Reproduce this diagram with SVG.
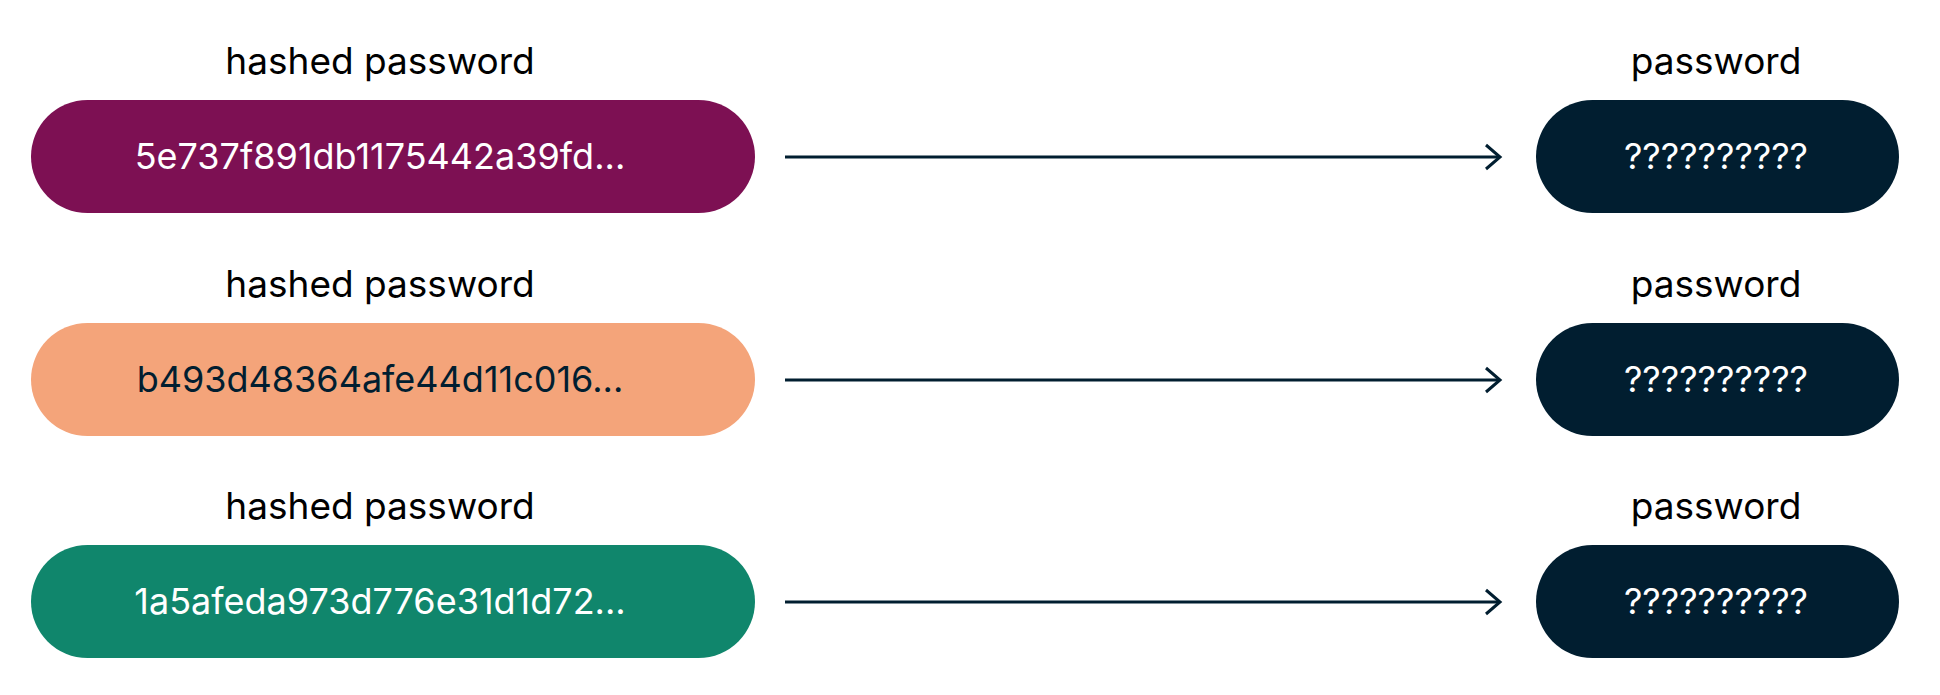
<svg xmlns="http://www.w3.org/2000/svg" width="1940" height="695" viewBox="0 0 1940 695">
<defs>
<style>
.lbl{font-family:Inter,"Liberation Sans",sans-serif;font-size:37px;fill:#000;text-anchor:middle}
.t{font-family:Inter,"Liberation Sans",sans-serif;font-size:36px;text-anchor:middle}
.c{stroke:#011e30;stroke-width:3;fill:none}
</style>
<marker id="a" markerWidth="20" markerHeight="30" refX="17" refY="15" orient="auto" markerUnits="userSpaceOnUse"><path d="M3,3 L17,15 L3,27" fill="none" stroke="#011e30" stroke-width="3"/></marker>
</defs>
<rect width="1940" height="695" fill="#fff"/>
<g id="h1"><text class="lbl" x="380" y="74">hashed password</text><rect x="31" y="100" width="724" height="113" rx="56.5" fill="#7d1053"/><text class="t" x="380" y="169" fill="#fff">5e737f891db1175442a39fd...</text></g>
<g id="h2"><text class="lbl" x="380" y="297">hashed password</text><rect x="31" y="323" width="724" height="113" rx="56.5" fill="#f4a47a"/><text class="t" x="380" y="392" fill="#011e30">b493d48364afe44d11c016...</text></g>
<g id="h3"><text class="lbl" x="380" y="519">hashed password</text><rect x="31" y="545" width="724" height="113" rx="56.5" fill="#10866c"/><text class="t" x="380" y="614" fill="#fff">1a5afeda973d776e31d1d72...</text></g>
<g id="p1"><text class="lbl" x="1716" y="74">password</text><rect x="1536" y="100" width="363" height="113" rx="56.5" fill="#011e30"/><text class="t" x="1716" y="169" fill="#fff">??????????</text></g>
<g id="p2"><text class="lbl" x="1716" y="297">password</text><rect x="1536" y="323" width="363" height="113" rx="56.5" fill="#011e30"/><text class="t" x="1716" y="392" fill="#fff">??????????</text></g>
<g id="p3"><text class="lbl" x="1716" y="519">password</text><rect x="1536" y="545" width="363" height="113" rx="56.5" fill="#011e30"/><text class="t" x="1716" y="614" fill="#fff">??????????</text></g>
<g id="connectors">
<line class="c" x1="785" y1="157" x2="1500" y2="157" marker-end="url(#a)"/>
<line class="c" x1="785" y1="380" x2="1500" y2="380" marker-end="url(#a)"/>
<line class="c" x1="785" y1="602" x2="1500" y2="602" marker-end="url(#a)"/>
</g>
</svg>
